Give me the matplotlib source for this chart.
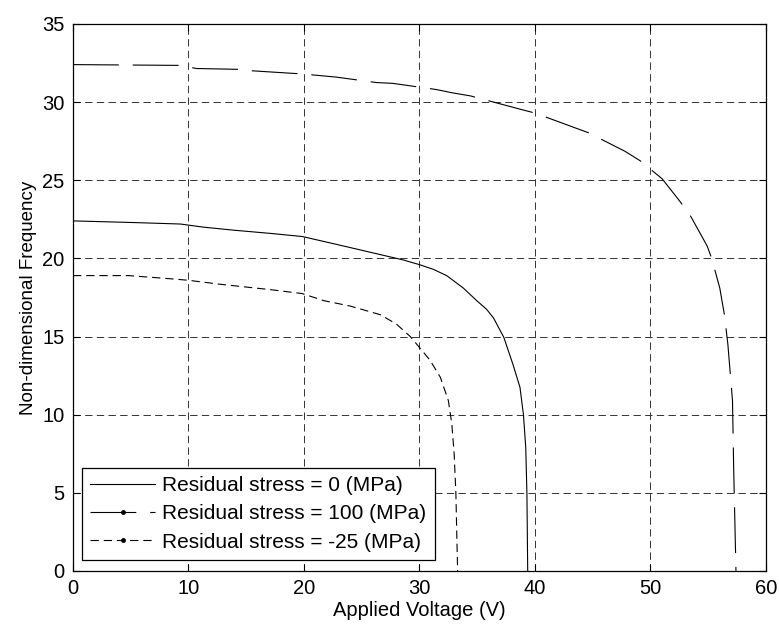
import matplotlib
matplotlib.use('Agg')
import matplotlib.pyplot as plt
from matplotlib.lines import Line2D

plt.rcParams['font.family'] = ['Liberation Sans', 'DejaVu Sans']
plt.rcParams['lines.scale_dashes'] = False

# 读取自图片的数据
v_0 = [0, 5, 9.3, 11.3, 14, 17.1, 19.85, 22.8, 25.7, 28.6, 30, 31.2, 32.35,
       33.8, 34.95, 35.8, 36.4, 37.3, 38.1, 38.7, 39.0, 39.2, 39.3, 39.37]
f_0 = [22.4, 22.3, 22.2, 22.0, 21.8, 21.6, 21.4, 20.9, 20.4, 19.9, 19.6, 19.3,
       18.9, 18.1, 17.3, 16.75, 16.2, 14.95, 13.2, 11.75, 10.0, 7.9, 5.0, 0]

v_100 = [0, 9.3, 10.7, 14.2, 15.6, 19.9, 22.8, 26.3, 27.7, 31.5, 32.8, 34.4,
         38.7, 40, 43.3, 44.6, 47.8, 49.1, 51, 52.55, 53.4, 54.3, 54.9, 55.3,
         56.0, 56.4, 56.7, 57.1, 57.2, 57.4]
f_100 = [32.4, 32.35, 32.15, 32.1, 32.0, 31.8, 31.6, 31.25, 31.2, 30.8, 30.6,
         30.4, 29.55, 29.3, 28.4, 28.05, 26.85, 26.25, 25.1, 23.65, 22.8, 21.6,
         20.8, 20.0, 18.1, 16.4, 14.5, 10.9, 6.65, 0]

v_m25 = [0, 4.8, 8.4, 10, 12.7, 17.1, 19.85, 21.7, 24, 26.6, 28.0, 29.2, 30,
         30.9, 31.8, 32.5, 32.8, 33.0, 33.15, 33.3]
f_m25 = [18.9, 18.9, 18.7, 18.6, 18.35, 18.0, 17.75, 17.3, 16.95, 16.4, 15.8,
         15.0, 14.3, 13.5, 12.4, 10.9, 9.4, 7.5, 5.0, 0]

labels = ['Residual stress = 0 (MPa)',
          'Residual stress = 100 (MPa)',
          'Residual stress = -25 (MPa)']
x_ticks = [0, 10, 20, 30, 40, 50, 60]
y_ticks = [0, 5, 10, 15, 20, 25, 30, 35]

fs = 14.5

fig = plt.figure(figsize=(7.79, 6.26), dpi=100)
ax = fig.add_axes([0.0937, 0.0879, 0.8896, 0.8738])

ls_100 = (0, (33, 10))
ls_m25 = (0, (6, 3.5))

ax.plot(v_0, f_0, color='k', lw=0.8, ls='-')
ax.plot(v_100, f_100, color='k', lw=0.8, ls=ls_100)
ax.plot(v_m25, f_m25, color='k', lw=0.8, ls=ls_m25)

ax.set_xlim(0, 60)
ax.set_ylim(0, 35)
ax.set_xticks(x_ticks)
ax.set_yticks(y_ticks)
ax.tick_params(direction='in', length=5, width=0.8, top=True, right=True,
               labelsize=fs, pad=6)
ax.grid(True, color='0.2', lw=0.7, ls=(0, (5.3, 3.1)))
for s in ax.spines.values():
    s.set_linewidth(0.9)

ax.set_xlabel('Applied Voltage (V)', fontsize=fs, labelpad=2)
ax.set_ylabel('Non-dimensional Frequency', fontsize=13.5, labelpad=4)

# 图例（带点标记）
handles = [
    Line2D([], [], color='k', lw=0.8, ls='-'),
    Line2D([], [], color='k', lw=0.8, ls=ls_100, marker='.', markersize=5),
    Line2D([], [], color='k', lw=0.8, ls=ls_m25, marker='.', markersize=5),
]
leg = ax.legend(handles, labels, loc='lower left', bbox_to_anchor=(0.013, 0.02),
                borderaxespad=0, fontsize=15, fancybox=False, framealpha=1,
                edgecolor='k', handlelength=3.1, handletextpad=0.35,
                labelspacing=0.45, borderpad=0.4)
leg.get_frame().set_linewidth(0.9)

fig.savefig('out.png', dpi=100)
